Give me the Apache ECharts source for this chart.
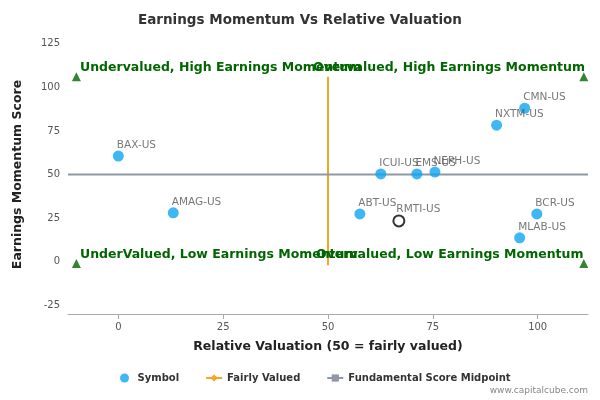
<!DOCTYPE html>
<html><head><meta charset="utf-8">
<script src="https://cdn.jsdelivr.net/npm/echarts@6/dist/echarts.min.js"></script>
<style>body{margin:0}#c{width:600px;height:400px}</style></head>
<body><div id="c"></div>
<script>
const symbols = ["BAX-US","AMAG-US","ABT-US","ICUI-US","EMS-US","NEPH-US","NXTM-US","CMN-US","BCR-US","MLAB-US"];
const valuation = [0, 13.1, 57.6, 62.6, 71.2, 75.5, 90.2, 96.9, 99.8, 95.7];
const momentum = [60.6, 28, 27.4, 50.3, 50.3, 51.4, 78.3, 88, 27.4, 13.7];
const focus = { name: "RMTI-US", x: 66.9, y: 23.4 };
const fairLine = [[50, 106], [50, -2]];
const midLine = [[-12, 50], [112, 50]];
const corners = [[-10, 106], [111, 106], [-10, -1], [111, -1]];

const chart = echarts.init(document.getElementById("c"));
const green = "#006600";
const font = "DejaVu Sans";
const qText = (t, left, top) => ({ type: "text", left, top, z: 10,
  style: { text: t, fill: green, font: "bold 12.5px 'DejaVu Sans'" } });

chart.setOption({
  textStyle: { fontFamily: font },
  title: { text: "Earnings Momentum Vs Relative Valuation", left: "center", top: 8,
    textStyle: { fontSize: 13.5, fontWeight: "bold", color: "#333", fontFamily: font } },
  grid: { left: 68, right: 12, top: 35, bottom: 86 },
  xAxis: { type: "value", min: -12, max: 112, interval: 25,
    name: "Relative Valuation (50 = fairly valued)", nameLocation: "middle", nameGap: 26,
    nameTextStyle: { fontWeight: "bold", fontSize: 12.5, color: "#222" },
    axisLabel: { color: "#555", fontSize: 10, customValues: [0, 25, 50, 75, 100] },
    axisTick: { customValues: [0, 25, 50, 75, 100], lineStyle: { color: "#aaa" } },
    axisLine: { onZero: false, lineStyle: { color: "#aaa" } }, splitLine: { show: false } },
  yAxis: { type: "value", min: -30, max: 130,
    name: "Earnings Momentum Score", nameLocation: "middle", nameGap: 44,
    nameTextStyle: { fontWeight: "bold", fontSize: 12.5, color: "#222" },
    axisLabel: { color: "#555", fontSize: 10, customValues: [-25, 0, 25, 50, 75, 100, 125] },
    axisTick: { show: false },
    axisLine: { show: false }, splitLine: { show: false } },
  legend: { bottom: 12, left: 115, itemGap: 26, itemWidth: 16, itemHeight: 9,
    textStyle: { fontWeight: "bold", fontSize: 10, color: "#333" },
    data: [{ name: "Symbol", icon: "circle" }, { name: "Fairly Valued" }, { name: "Fundamental Score Midpoint" }] },
  graphic: [
    qText("Undervalued, High Earnings Momentum", 80, 61),
    qText("Overvalued, High Earnings Momentum", 313, 61),
    qText("UnderValued, Low Earnings Momentum", 80, 248),
    qText("Overvalued, Low Earnings Momentum", 316, 248),
    { type: "text", right: 12, bottom: 5, style: { text: "www.capitalcube.com", fill: "#888", font: "9px 'DejaVu Sans'" } }
  ],
  series: [
    { name: "Fairly Valued", type: "line", data: fairLine, symbol: "diamond", showSymbol: false,
      itemStyle: { color: "#f5a623" }, lineStyle: { color: "#f5a623", width: 2 }, z: 1 },
    { name: "Fundamental Score Midpoint", type: "line", data: midLine, symbol: "rect", showSymbol: false,
      itemStyle: { color: "#9097a5" }, lineStyle: { color: "#9097a5", width: 2 }, z: 1 },
    { type: "scatter", data: corners, symbol: "triangle", symbolSize: 9, itemStyle: { color: green }, z: 2 },
    { name: "Symbol", type: "scatter", symbolSize: 11, itemStyle: { color: "#0ea5ef" }, z: 3,
      data: symbols.map((s, i) => ({ name: s, value: [valuation[i], momentum[i]] })),
      label: { show: true, formatter: "{b}", position: [4, -11], color: "#555", fontSize: 10.5 } },
    { type: "scatter", symbolSize: 11, z: 4,
      itemStyle: { color: "#fff", borderColor: "#000", borderWidth: 2 },
      data: [{ name: focus.name, value: [focus.x, focus.y] }],
      label: { show: true, formatter: "{b}", position: [4, -11], color: "#555", fontSize: 10.5 } }
  ]
});
</script></body></html>
